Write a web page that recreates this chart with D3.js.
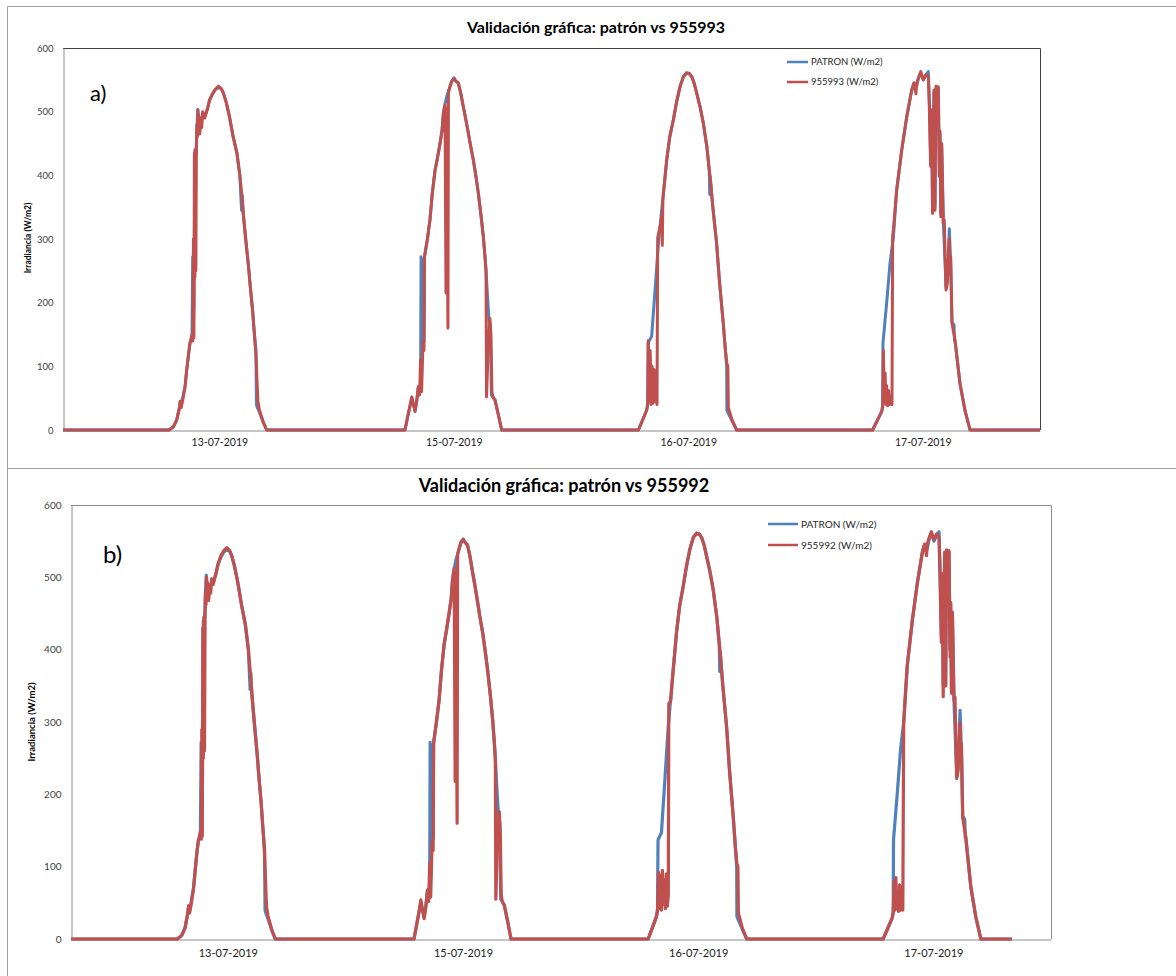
<!DOCTYPE html>
<html lang="es"><head>
<meta charset="utf-8">
<title>Validación gráfica</title>
<script src="https://cdnjs.cloudflare.com/ajax/libs/d3/7.8.5/d3.min.js"></script>
<style>
body { margin: 0; background: #fff; }
svg text { font-family: Lato, "Open Sans", sans-serif; }
</style>
</head>
<body>
<svg id="lienzo" width="1176" height="976"></svg>
<script>
// eje x: horas desde el inicio del registro
var dias = ["13-07-2019", "15-07-2019", "16-07-2019", "17-07-2019"];
var horasEtiqueta = [16, 40, 64, 88];
var yTicks = [0, 100, 200, 300, 400, 500, 600];

// PATRON (W/m2): [hora, irradiancia]
var patron13 = [[10.85,0],[11.3,5],[11.64,16],[11.9,35],[12.0,45],[12.1,38],[12.31,55],[12.5,70],[12.66,94],[12.85,120],[13.0,137],[13.2,140],[13.28,272],[13.33,150],[13.4,200],[13.45,300],[13.5,440],[13.6,430],[13.7,470],[13.8,503],[13.9,490],[14.0,480],[14.2,490],[14.5,492],[14.8,505],[15.0,518],[15.3,528],[15.6,535],[15.9,538],[16.2,536],[16.4,530],[16.7,515],[17.0,495],[17.4,462],[17.8,435],[18.1,400],[18.28,345],[18.35,368],[18.45,340],[18.7,300],[19.0,255],[19.14,230],[19.4,190],[19.6,150],[19.75,125],[19.8,40],[19.9,35],[20.1,28],[20.5,12],[20.85,0]];
var patron15 = [[35.0,0],[35.35,26],[35.7,50],[36.03,30],[36.2,44],[36.37,68],[36.6,70],[36.65,272],[36.7,85],[36.75,268],[36.8,130],[36.95,140],[37.0,272],[37.3,300],[37.56,330],[37.8,372],[38.08,408],[38.3,425],[38.59,450],[38.8,472],[38.93,497],[39.1,512],[39.3,525],[39.6,539],[39.8,548],[40.02,553],[40.2,548],[40.46,545],[40.7,530],[40.97,508],[41.2,490],[41.49,466],[41.7,448],[42.0,424],[42.3,395],[42.51,372],[42.8,335],[43.02,304],[43.2,272],[43.3,250],[43.45,210],[43.6,175],[43.75,160],[43.85,55],[44.0,52],[44.22,47],[44.56,24],[44.9,0]];
var patron16 = [[58.9,0],[59.74,31],[59.85,40],[59.9,137],[60.25,147],[60.6,220],[60.94,293],[61.1,318],[61.38,361],[61.79,424],[62.1,460],[62.47,487],[62.8,515],[63.15,539],[63.5,555],[63.84,561],[64.1,560],[64.35,555],[64.6,545],[64.86,529],[65.2,508],[65.54,482],[65.9,445],[66.15,405],[66.2,370],[66.25,398],[66.5,352],[66.9,293],[67.2,232],[67.58,168],[67.8,125],[67.93,99],[67.95,31],[68.3,20],[68.95,0]];
var patron17 = [[82.87,0],[83.79,29],[83.9,35],[83.93,137],[84.3,199],[84.65,262],[85.0,304],[85.33,377],[85.85,440],[86.36,492],[86.87,534],[87.1,545],[87.38,540],[87.6,555],[87.79,560],[88.06,550],[88.33,558],[88.57,563],[88.67,520],[88.81,420],[88.91,500],[89.0,350],[89.15,530],[89.25,350],[89.35,535],[89.43,480],[89.59,535],[89.7,400],[89.76,465],[89.85,340],[89.94,445],[90.1,330],[90.38,225],[90.51,235],[90.72,316],[90.86,260],[90.99,170],[91.2,165],[91.25,140],[91.3,141],[91.81,73],[92.32,31],[92.84,0]];

// 955993 (W/m2)
var s993_13 = [[10.85,0],[11.3,5],[11.64,16],[11.9,33],[12.0,45],[12.1,35],[12.31,52],[12.5,68],[12.66,94],[12.85,118],[13.0,137],[13.2,150],[13.3,140],[13.35,300],[13.4,145],[13.45,435],[13.5,240],[13.55,440],[13.6,250],[13.65,430],[13.7,480],[13.75,460],[13.8,503],[13.85,470],[13.9,495],[14.0,465],[14.1,490],[14.2,475],[14.3,500],[14.5,490],[14.8,505],[15.0,518],[15.3,528],[15.6,535],[15.9,540],[16.2,536],[16.4,530],[16.7,515],[17.0,495],[17.4,462],[17.8,435],[18.1,400],[18.3,370],[18.45,340],[18.7,300],[19.0,255],[19.14,230],[19.4,188],[19.6,148],[19.75,118],[19.85,80],[19.95,45],[20.1,32],[20.5,12],[20.85,0]];
var s993_15 = [[35.0,0],[35.35,26],[35.7,52],[36.03,29],[36.2,45],[36.37,68],[36.5,55],[36.6,110],[36.7,60],[36.85,137],[36.95,125],[37.0,272],[37.3,300],[37.56,330],[37.8,372],[38.08,408],[38.3,425],[38.59,450],[38.8,470],[38.93,497],[39.1,510],[39.2,215],[39.25,505],[39.4,160],[39.45,530],[39.6,539],[39.8,548],[40.02,552],[40.2,548],[40.46,545],[40.7,530],[40.97,508],[41.2,490],[41.49,466],[41.7,448],[42.0,424],[42.3,395],[42.51,372],[42.8,335],[43.02,304],[43.2,270],[43.3,250],[43.35,52],[43.5,120],[43.7,175],[43.8,150],[43.9,60],[44.0,52],[44.22,47],[44.56,24],[44.9,0]];
var s993_16 = [[58.9,0],[59.74,31],[59.85,40],[59.9,140],[59.97,45],[60.1,125],[60.2,40],[60.3,100],[60.4,42],[60.5,95],[60.6,45],[60.7,60],[60.8,40],[60.87,302],[61.0,312],[61.2,325],[61.3,340],[61.34,290],[61.4,362],[61.79,424],[62.1,460],[62.47,487],[62.8,515],[63.15,539],[63.5,555],[63.84,561],[64.1,560],[64.35,555],[64.6,545],[64.86,529],[65.2,508],[65.54,482],[65.9,445],[66.2,403],[66.5,352],[66.9,293],[67.2,232],[67.58,168],[67.8,125],[67.95,105],[68.05,100],[68.1,35],[68.5,15],[68.95,0]];
var s993_17 = [[82.87,0],[83.79,29],[83.9,40],[83.97,125],[84.05,45],[84.15,90],[84.22,40],[84.3,70],[84.4,38],[84.5,62],[84.6,40],[84.7,45],[84.85,40],[84.92,304],[85.0,315],[85.33,377],[85.85,440],[86.36,492],[86.87,534],[87.1,545],[87.3,528],[87.38,545],[87.6,555],[87.79,563],[88.06,550],[88.33,558],[88.57,555],[88.67,508],[88.81,414],[88.91,503],[89.0,340],[89.15,534],[89.25,345],[89.35,540],[89.43,480],[89.59,539],[89.7,398],[89.76,470],[89.85,335],[89.94,450],[90.1,324],[90.2,330],[90.38,220],[90.51,230],[90.72,300],[90.8,245],[90.86,272],[90.99,168],[91.3,141],[91.81,73],[92.32,31],[92.84,0]];

// 955992 (W/m2)
var s992_13 = [[10.85,0],[11.3,5],[11.64,15],[11.9,34],[12.0,46],[12.1,36],[12.31,52],[12.5,70],[12.66,92],[12.85,120],[13.0,136],[13.2,148],[13.3,138],[13.35,290],[13.4,142],[13.45,430],[13.5,250],[13.55,445],[13.62,260],[13.68,440],[13.72,478],[13.78,462],[13.82,500],[13.88,472],[13.95,492],[14.05,468],[14.15,488],[14.25,478],[14.35,498],[14.5,490],[14.8,506],[15.0,518],[15.3,530],[15.6,537],[15.9,541],[16.2,537],[16.4,530],[16.7,514],[17.0,494],[17.4,462],[17.8,433],[18.1,400],[18.3,368],[18.45,340],[18.7,300],[19.0,255],[19.14,230],[19.4,188],[19.6,150],[19.75,118],[19.85,80],[19.95,45],[20.1,32],[20.5,12],[20.85,0]];
var s992_15 = [[35.0,0],[35.35,25],[35.7,54],[36.03,28],[36.2,44],[36.37,66],[36.5,52],[36.6,105],[36.7,58],[36.85,135],[36.95,122],[37.0,270],[37.3,302],[37.56,330],[37.8,370],[38.08,408],[38.3,426],[38.59,452],[38.8,470],[38.93,496],[39.1,512],[39.2,218],[39.25,506],[39.4,160],[39.45,532],[39.6,540],[39.8,549],[40.02,552],[40.2,549],[40.46,544],[40.7,530],[40.97,507],[41.2,490],[41.49,466],[41.7,447],[42.0,424],[42.3,394],[42.51,372],[42.8,336],[43.02,304],[43.2,270],[43.3,248],[43.35,55],[43.5,125],[43.7,176],[43.8,150],[43.9,62],[44.0,52],[44.22,46],[44.56,24],[44.9,0]];
var s992_16 = [[58.9,0],[59.74,31],[59.85,40],[59.95,92],[60.05,42],[60.15,88],[60.25,40],[60.35,95],[60.45,48],[60.55,82],[60.65,42],[60.75,90],[60.85,45],[60.95,60],[61.0,325],[61.2,330],[61.38,362],[61.79,424],[62.1,460],[62.47,488],[62.8,515],[63.15,539],[63.5,555],[63.84,561],[64.1,560],[64.35,555],[64.6,545],[64.86,529],[65.2,508],[65.54,482],[65.9,445],[66.2,403],[66.5,352],[66.9,293],[67.2,232],[67.58,168],[67.8,126],[67.95,104],[68.05,100],[68.1,36],[68.5,15],[68.95,0]];
var s992_17 = [[82.87,0],[83.79,29],[83.9,38],[84.0,80],[84.08,40],[84.17,85],[84.25,42],[84.35,60],[84.45,38],[84.55,75],[84.65,40],[84.75,55],[84.88,40],[84.97,300],[85.1,330],[85.33,378],[85.85,441],[86.36,492],[86.87,535],[87.1,546],[87.3,530],[87.38,546],[87.6,556],[87.79,563],[88.06,552],[88.33,560],[88.57,556],[88.67,505],[88.81,410],[88.91,505],[89.0,335],[89.15,535],[89.25,350],[89.35,538],[89.43,470],[89.59,537],[89.7,390],[89.76,465],[89.85,340],[89.94,452],[90.1,330],[90.2,335],[90.38,222],[90.51,232],[90.72,298],[90.8,250],[90.86,270],[90.99,168],[91.3,141],[91.81,73],[92.32,31],[92.84,0]];

var azul = "#4F81BD", rojo = "#C0504D";

function serie(partes, fin) {
    return [[0, 0]].concat(partes[0], partes[1], partes[2], partes[3], [[fin, 0]]);
}

var svg = d3.select("#lienzo");

// marcos de los dos paneles
svg.append("path")
    .attr("d", "M7.5,976 V6.5 H1176 M7.5,468.5 H1176")
    .attr("fill", "none").attr("stroke", "#a0a0a0").attr("stroke-width", 1);

function dibujar(c) {
    var g = svg.append("g");
    var x = d3.scaleLinear().domain([0, 100]).range([c.izq, c.der]);
    var y = d3.scaleLinear().domain([0, 600]).range([c.abajo, c.arriba]);

    // borde superior y derecho del area de trazado
    g.append("path")
        .attr("d", "M" + c.izq + "," + (c.arriba + 0.5) + " H" + (c.der + 0.5) + " V" + c.abajo)
        .attr("fill", "none").attr("stroke", c.borde).attr("stroke-width", 1);

    var ejeY = g.append("g").attr("transform", "translate(" + (c.izq + 0.5) + ",0)")
        .call(d3.axisLeft(y).tickValues(yTicks).tickSize(0).tickPadding(c.padY));
    ejeY.select(".domain").attr("stroke", "#8c8c8c");
    ejeY.selectAll("text").attr("font-size", c.fuenteY).attr("fill", "#404040")
        .style("font-family", "Lato, sans-serif");

    var ejeX = g.append("g").attr("transform", "translate(0," + (c.abajo + 0.5) + ")")
        .call(d3.axisBottom(x).tickValues(horasEtiqueta).tickSize(0).tickPadding(c.padX)
            .tickFormat(function(d, i) { return dias[i]; }));
    ejeX.select(".domain").attr("stroke", "#8c8c8c");
    ejeX.selectAll("text").attr("font-size", c.fuenteX).attr("fill", "#1a1a1a")
        .style("font-family", "Lato, sans-serif");

    var linea = d3.line().x(function(d) { return x(d[0]); }).y(function(d) { return y(d[1]); });
    var series = [
        { datos: c.patron, color: azul },
        { datos: c.sensor, color: rojo }
    ];
    g.selectAll("path.serie").data(series).enter().append("path")
        .attr("class", "serie")
        .attr("d", function(d) { return linea(d.datos); })
        .attr("fill", "none")
        .attr("stroke", function(d) { return d.color; })
        .attr("stroke-width", c.grosor)
        .attr("stroke-linejoin", "round");

    // titulo
    g.append("text").attr("x", c.tituloX).attr("y", c.tituloY)
        .attr("text-anchor", "middle").attr("font-weight", "bold")
        .attr("font-size", c.fuenteTitulo).attr("fill", "#000").text(c.titulo);

    // titulo eje y
    g.append("text")
        .attr("transform", "translate(" + c.ejeTX + "," + c.ejeTY + ") rotate(-90)")
        .attr("text-anchor", "middle").attr("font-weight", "bold")
        .attr("font-size", c.fuenteEjeT).attr("fill", "#000").text("Irradiancia  (W/m2)");

    // letra del panel
    g.append("text").attr("x", c.letraX).attr("y", c.letraY)
        .attr("font-size", c.fuenteLetra).attr("fill", "#000").text(c.letra);

    // leyenda
    var ley = g.append("g").attr("transform", "translate(" + c.leyX + "," + c.leyY + ")");
    [["PATRON (W/m2)", azul], [c.nombre + " (W/m2)", rojo]].forEach(function(it, i) {
        ley.append("line").attr("x1", 0).attr("x2", c.leyLargo)
            .attr("y1", i * c.leySep).attr("y2", i * c.leySep)
            .attr("stroke", it[1]).attr("stroke-width", 2.5);
        ley.append("text").attr("x", c.leyLargo + 3).attr("y", i * c.leySep)
            .attr("dy", "0.35em").attr("font-size", c.fuenteLey).attr("fill", "#262626").text(it[0]);
    });
}

dibujar({
    izq: 63, der: 1040, arriba: 48, abajo: 430, borde: "#404040",
    patron: serie([patron13, patron15, patron16, patron17], 100),
    sensor: serie([s993_13, s993_15, s993_16, s993_17], 100),
    grosor: 3, padY: 10, padX: 8, fuenteY: 9.5, fuenteX: 10.5,
    titulo: "Validación gráfica: patrón vs 955993", tituloX: 596, tituloY: 33, fuenteTitulo: 16,
    ejeTX: 31, ejeTY: 238, fuenteEjeT: 8.5,
    letra: "a)", letraX: 90, letraY: 101, fuenteLetra: 22,
    nombre: "955993", leyX: 787, leyY: 62, leyLargo: 21, leySep: 20, fuenteLey: 9.5
});

dibujar({
    izq: 71, der: 1051, arriba: 505, abajo: 939, borde: "#8c8c8c",
    patron: serie([patron13, patron15, patron16, patron17], 96),
    sensor: serie([s992_13, s992_15, s992_16, s992_17], 96),
    grosor: 3.2, padY: 10, padX: 10, fuenteY: 10, fuenteX: 11,
    titulo: "Validación gráfica: patrón vs 955992", tituloX: 564, tituloY: 492, fuenteTitulo: 18,
    ejeTX: 35, ejeTY: 722, fuenteEjeT: 9.5,
    letra: "b)", letraX: 103, letraY: 563, fuenteLetra: 24,
    nombre: "955992", leyX: 768, leyY: 524, leyLargo: 30, leySep: 21, fuenteLey: 10
});
</script>
</body></html>
